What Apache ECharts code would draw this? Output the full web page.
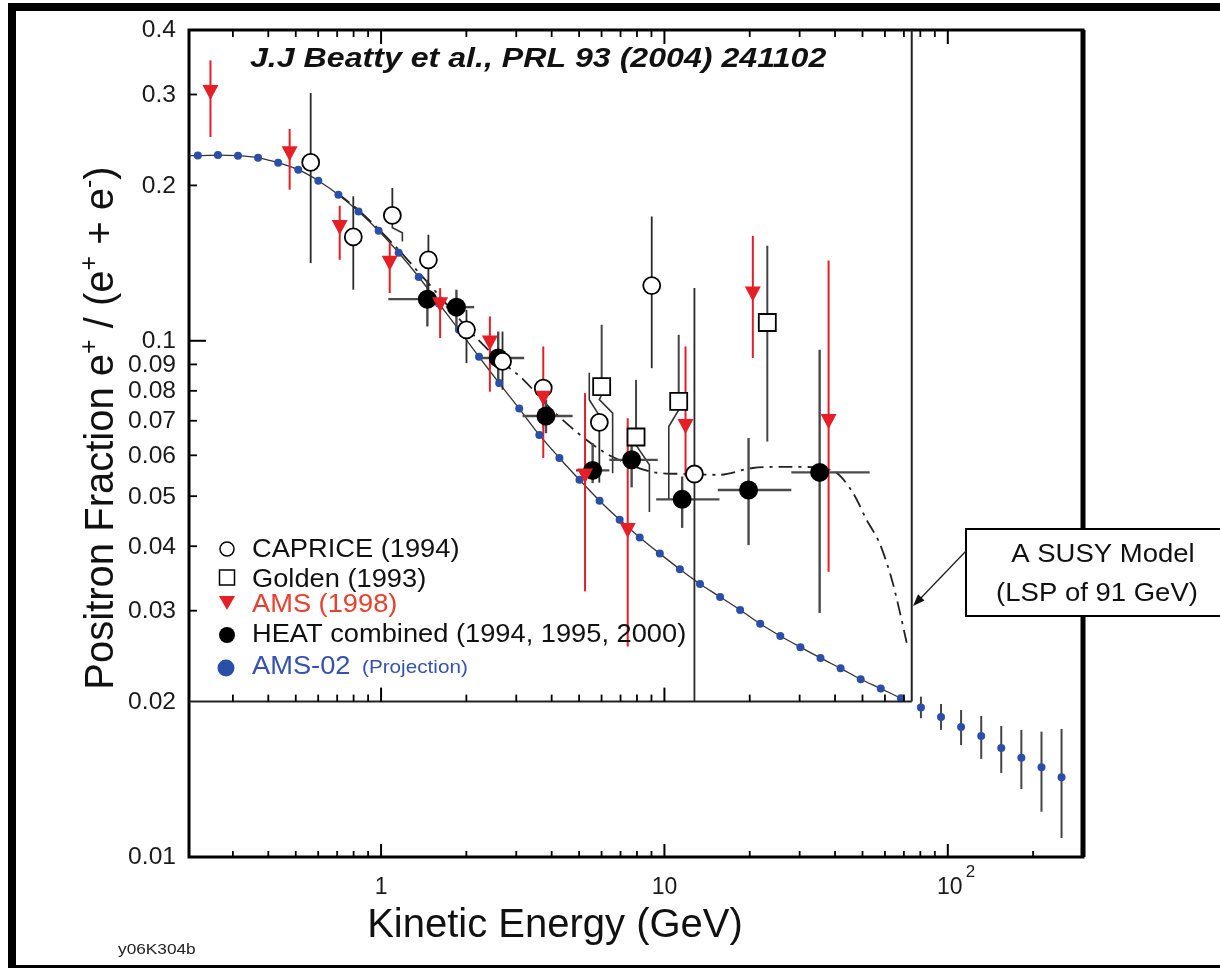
<!DOCTYPE html>
<html><head><meta charset="utf-8">
<script src="https://cdn.jsdelivr.net/npm/echarts@6/dist/echarts.min.js"></script>
<style>html,body{margin:0;padding:0;background:#fff}#c{width:1220px;height:968px}</style>
</head><body><div id="c"></div>
<script>
// ---------------- DATA ----------------
// AMS-02 projection (blue dots), kinetic energy (GeV) and positron fraction
const ams02X = [0.2256,0.2657,0.3127,0.3681,0.4334,0.5102,0.6006,0.7071,0.8327,0.9804,1.154,1.359,1.600,1.883,2.217,2.611,3.073,3.618,4.259,5.014,5.903,6.950,8.181,9.632,11.34,13.35,15.72,18.50,21.78,25.64,30.19,35.54,41.84,49.27,58.00,68.29,80.39,94.65,111.4,131.2,154.4,181.8,214.1,252.0];
const ams02Y = [0.2285,0.2290,0.2283,0.2262,0.2213,0.2145,0.2042,0.1918,0.1781,0.1634,0.1481,0.1329,0.1181,0.1050,0.0931,0.0828,0.0739,0.0657,0.0593,0.0538,0.0490,0.0450,0.0416,0.0387,0.0361,0.0338,0.0319,0.0301,0.0283,0.0268,0.0255,0.0243,0.0232,0.0221,0.0212,0.0203,0.01949,0.01867,0.01786,0.01716,0.01626,0.01557,0.01492,0.01427];
const ams02Lo = [null,null,null,null,null,null,null,null,null,null,null,null,null,null,null,null,null,null,null,null,null,null,null,null,null,null,null,null,null,null,null,null,null,null,null,null,0.01857,0.01763,0.01648,0.01549,0.01455,0.01354,0.01224,0.01088];
const ams02Hi = [null,null,null,null,null,null,null,null,null,null,null,null,null,null,null,null,null,null,null,null,null,null,null,null,null,null,null,null,null,null,null,null,null,null,null,null,0.02045,0.01979,0.01927,0.01876,0.01794,0.01763,0.01749,0.01770];

// Background model (solid line)
const bgX = [0.21,0.2256,0.2657,0.3127,0.3681,0.4334,0.5102,0.6006,0.7071,0.8327,0.9804,1.154,1.359,1.600,1.883,2.217,2.611,3.073,3.618,4.259,5.014,5.903,6.950,8.181,9.632,11.34,13.35,15.72,18.50,21.78,25.64,30.19,35.54,41.84,49.27,58.00,68.29];
const bgY = [0.2285,0.2285,0.2290,0.2283,0.2262,0.2213,0.2145,0.2042,0.1918,0.1781,0.1634,0.1481,0.1329,0.1181,0.1050,0.0931,0.0828,0.0739,0.0657,0.0593,0.0538,0.0490,0.0450,0.0416,0.0387,0.0361,0.0338,0.0319,0.0301,0.0283,0.0268,0.0255,0.0243,0.0232,0.0221,0.0212,0.0203];

// SUSY model (dash-dot line)
const susyX = [0.707,0.833,0.98,1.154,1.36,1.6,1.88,2.2,2.6,3.15,4.0,5.3,6.55,9.07,12.0,15.6,20.5,27.7,35.0,40.5,46.2,51.7,57.4,63.9,71.6];
const susyY = [0.1925,0.179,0.1645,0.150,0.1355,0.1225,0.1105,0.1005,0.092,0.0845,0.0735,0.0643,0.0596,0.0557,0.0552,0.0550,0.0567,0.0570,0.0568,0.0555,0.0508,0.045,0.0406,0.034,0.026];

// CAPRICE (1994)
const capX  = [0.5645,0.798,1.096,1.469,2.002,2.683,3.736,5.892,9.02,12.76];
const capY  = [0.2216,0.1589,0.1749,0.1435,0.1050,0.0912,0.0810,0.0695,0.1279,0.0552];
const capLo = [0.1414,0.1256,0.1749,0.1250,0.0905,0.0804,0.0680,0.0531,0.0885,0.0200];
const capHi = [0.3020,0.1905,0.1977,0.1605,0.1148,0.1042,0.0834,0.0695,0.1741,0.1265];

// Golden (1993)
const golX  = [6.005,7.94,11.23,23.07];
const golY  = [0.0815,0.0651,0.0763,0.1085];
const golLo = [0.0815,0.0651,0.0763,0.0638];
const golHi = [0.1074,0.0840,0.1027,0.1528];

// Offset connectors (error-bar continuations drawn with a kink), [x, y] pairs
const connectors = [
  [[1.096,0.1703],[1.096,0.1656],[1.189,0.1619],[1.189,0.1557]],
  [[6.005,0.0786],[5.892,0.0769],[6.565,0.0724],[6.565,0.0554]],
  [[5.892,0.0716],[5.43,0.0769],[5.43,0.0867]],
  [[7.94,0.0628],[8.85,0.0575],[8.85,0.0466]],
  [[11.23,0.0735],[10.36,0.0682],[10.36,0.0492]]
];

// AMS (1998)
const amsX  = [0.250,0.4757,0.7146,1.073,1.616,2.421,3.736,5.246,7.42,11.87,20.51,37.96];
const amsY  = [0.3028,0.2304,0.1658,0.1414,0.1174,0.0990,0.0774,0.0547,0.0429,0.0682,0.1232,0.0698];
const amsLo = [0.2482,0.1962,0.1435,0.1237,0.1012,0.0797,0.0593,0.0327,0.02557,0.0546,0.0926,0.0357];
const amsHi = [0.3493,0.2572,0.1826,0.1547,0.1265,0.1115,0.0975,0.0792,0.0708,0.0975,0.1597,0.1430];

// HEAT combined (1994, 1995, 2000)
const heatX   = [1.457,1.845,2.591,3.819,5.58,7.66,11.55,19.81,35.3];
const heatY   = [0.1204,0.1162,0.0926,0.0715,0.0561,0.0588,0.0493,0.0514,0.0556];
const heatXLo = [1.061,1.693,2.220,3.157,4.875,6.393,9.35,15.43,28.04];
const heatXHi = [1.647,2.131,3.20,4.742,6.393,9.47,15.64,28.04,53.0];
const heatYLo = [0.1066,0.1050,0.0815,0.0662,0.0530,0.0520,0.0434,0.0402,0.0297];
const heatYHi = [0.1313,0.1256,0.1042,0.0769,0.0634,0.0640,0.0546,0.0648,0.0961];

// Axes / ticks
const X_MIN = 0.21, X_MAX = 300, Y_MIN = 0.01, Y_MAX = 0.4;
const INNER_X_MAX = 74.6, INNER_Y_MIN = 0.02;   // original (inner) plot box
const TOP_TICK_MAX = 100;
const xMinorTicks = [0.3,0.4,0.5,0.6,0.7,0.8,0.9,2,3,4,5,6,7,8,9,20,30,40,50,60,70,80,90,200];
const xMajorTicks = [1,10,100];
const xTickLabelVals = [1,10,100];
const xTickLabels = ['1','10','10'];
const xTickSups = ['','','2'];
const yMinorTicks = [0.03,0.04,0.05,0.06,0.07,0.08,0.09,0.2,0.3];
const yMajorTicks = [0.1];
const yTickLabelVals = [0.4,0.3,0.2,0.1,0.09,0.08,0.07,0.06,0.05,0.04,0.03,0.02,0.01];
const yTickLabels = ['0.4','0.3','0.2','0.1','0.09','0.08','0.07','0.06','0.05','0.04','0.03','0.02','0.01'];

// ---------------- CHART ----------------
const FONT = '"Liberation Sans", Arial, Helvetica, sans-serif';
const RED = '#e61e26', BLUE = '#2b4fa8';

function zip() { const a = arguments; return a[0].map((_, i) => Array.prototype.map.call(a, arr => arr[i] == null ? null : arr[i])); }
function L(a, b, w, c) { return {type:'line', shape:{x1:a[0], y1:a[1], x2:b[0], y2:b[1]}, style:{stroke:c || '#000', lineWidth:w, fill:null}}; }

function errRender(color, width) {
  return function (params, api) {
    const x = api.value(0), y = api.value(1);
    const lo = api.value(2), hi = api.value(3), xlo = api.value(4), xhi = api.value(5);
    const ch = [];
    if (isFinite(lo) && isFinite(hi) && lo > 0 && hi > 0 && hi > lo) ch.push(L(api.coord([x, lo]), api.coord([x, hi]), width, color));
    if (isFinite(xlo) && isFinite(xhi) && xlo > 0 && xhi > 0) ch.push(L(api.coord([xlo, y]), api.coord([xhi, y]), width, color));
    return {type:'group', children: ch};
  };
}

function renderFrame(params, api) {
  const ch = [];
  const txt = (x, y, s, size, align, va, sx) => ch.push({type:'text', x:x, y:y, scaleX: sx || 1,
      style:{text:s, font: size + 'px ' + FONT, fill:'#1a1a1a', align:align, verticalAlign:va}});
  ch.push(L(api.coord([X_MIN, INNER_Y_MIN]), api.coord([INNER_X_MAX, INNER_Y_MIN]), 2, '#222'));
  ch.push(L(api.coord([INNER_X_MAX, INNER_Y_MIN]), api.coord([INNER_X_MAX, Y_MAX]), 2, '#222'));
  ch.push(L(api.coord([X_MAX, Y_MIN]), api.coord([X_MAX, Y_MAX]), 5));
  yTickLabelVals.forEach((v, i) => { const p = api.coord([X_MIN, v]); txt(p[0] - 13, p[1] + 1, yTickLabels[i], 23, 'right', 'middle', 1.07); });
  xTickLabelVals.forEach((v, i) => {
    const p = api.coord([v, Y_MIN]);
    txt(p[0] + (xTickSups[i] ? 2 : 0), p[1] + 31, xTickLabels[i], 23, 'center', 'middle', 1);
    if (xTickSups[i]) txt(p[0] + 18, p[1] + 15, xTickSups[i], 17, 'left', 'middle', 1);
  });
  return {type:'group', children: ch};
}

function renderConnector(params, api) {
  const pts = connectors[params.dataIndex].map(p => api.coord(p).slice());
  return {type:'polyline', shape:{points: pts}, style:{stroke:'#333', lineWidth:1.6, fill:null}};
}

const chart = echarts.init(document.getElementById('c'), null, {renderer:'canvas'});

const staticGraphics = [
  {type:'rect', shape:{x:12, y:7, width:1240, height:962}, style:{fill:'none', stroke:'#000', lineWidth:8}, silent:true, z:50},
  {type:'text', x:250, y:60, scaleX:1.19, style:{text:'J.J Beatty et al., PRL 93 (2004) 241102', font:'italic bold 27px ' + FONT, fill:'#111', align:'left', verticalAlign:'middle'}, z:50},
  // legend
  {type:'circle', shape:{cx:227, cy:549, r:7}, style:{fill:'#fff', stroke:'#000', lineWidth:1.5}, z:50},
  {type:'rect', shape:{x:219.5, y:570, width:15, height:15}, style:{fill:'#fff', stroke:'#000', lineWidth:1.5}, z:50},
  {type:'polygon', shape:{points:[[219,596],[235,596],[227,610]]}, style:{fill:RED}, z:50},
  {type:'circle', shape:{cx:227, cy:635, r:8}, style:{fill:'#000'}, z:50},
  {type:'circle', shape:{cx:226, cy:668, r:8.5}, style:{fill:BLUE}, z:50},
  {type:'text', x:252, y:550, scaleX:1.09, style:{text:'CAPRICE (1994)', font:'25px ' + FONT, fill:'#111', verticalAlign:'middle'}, z:50},
  {type:'text', x:252, y:580, scaleX:1.09, style:{text:'Golden (1993)', font:'25px ' + FONT, fill:'#111', verticalAlign:'middle'}, z:50},
  {type:'text', x:252, y:605, scaleX:1.09, style:{text:'AMS (1998)', font:'25px ' + FONT, fill:'#e8402f', verticalAlign:'middle'}, z:50},
  {type:'text', x:252, y:635, scaleX:1.09, style:{text:'HEAT combined (1994, 1995, 2000)', font:'25px ' + FONT, fill:'#111', verticalAlign:'middle'}, z:50},
  {type:'text', x:252, y:667, scaleX:1.09, style:{text:'AMS-02', font:'25px ' + FONT, fill:'#3552b0', verticalAlign:'middle'}, z:50},
  {type:'text', x:362, y:668, scaleX:1.09, style:{text:'(Projection)', font:'19px ' + FONT, fill:'#3552b0', verticalAlign:'middle'}, z:50},
  // axis titles
  {type:'text', x:100, y:428, rotation:Math.PI / 2, style:{
    text:'{a|Positron Fraction e}{s|+}{a| / (e}{s|+}{a| + e}{s|-}{a|)}',
    rich:{a:{font:'40px ' + FONT, fill:'#111', lineHeight:44, verticalAlign:'bottom'}, s:{font:'25px ' + FONT, fill:'#111', lineHeight:44, verticalAlign:'top'}},
    align:'center', verticalAlign:'middle'}, z:50},
  {type:'text', x:555, y:926, style:{text:'Kinetic Energy (GeV)', font:'40px ' + FONT, fill:'#111', align:'center', verticalAlign:'middle'}, z:50},
  {type:'text', x:118, y:950, scaleX:1.15, style:{text:'y06K304b', font:'15px ' + FONT, fill:'#222', verticalAlign:'middle'}, z:50},
  // SUSY annotation
  {type:'rect', shape:{x:966, y:529, width:270, height:87}, style:{fill:'#fff', stroke:'#000', lineWidth:2}, z:60},
  {type:'text', x:1103, y:555, scaleX:1.1, style:{text:'A SUSY Model', font:'25px ' + FONT, fill:'#111', align:'center', verticalAlign:'middle'}, z:61},
  {type:'text', x:1097, y:594, scaleX:1.1, style:{text:'(LSP of 91 GeV)', font:'25px ' + FONT, fill:'#111', align:'center', verticalAlign:'middle'}, z:61},
  {type:'line', shape:{x1:966, y1:551, x2:919, y2:600}, style:{stroke:'#222', lineWidth:1.3}, z:61},
  {type:'polygon', shape:{points:[[913,606],[924.5,600.5],[918.1,594.3]]}, style:{fill:'#111'}, z:61}
];

const option = {
  animation: false,
  backgroundColor: '#fff',
  grid: {left: 189, right: 137, top: 30, bottom: 111, show: true, borderColor: '#000', borderWidth: 3},
  xAxis: {type:'log', logBase:10, min:X_MIN, max:X_MAX, axisLine:{show:false}, axisTick:{show:false}, axisLabel:{show:false}, splitLine:{show:false}},
  yAxis: {type:'log', logBase:10, min:Y_MIN, max:Y_MAX, axisLine:{show:false}, axisTick:{show:false}, axisLabel:{show:false}, splitLine:{show:false}},
  series: [
    {name:'Background', type:'line', data: zip(bgX, bgY), showSymbol:false, smooth:0.3, lineStyle:{color:'#333', width:1.3}, z:2, silent:true},
    {name:'SUSY', type:'line', data: zip(susyX, susyY), showSymbol:false, smooth:0.3, lineStyle:{color:'#222', width:1.8, type:[14,6,3,6]}, z:2, silent:true},
    {name:'connectors', type:'custom', renderItem: renderConnector, data: connectors.map(c => c[0]), encode:{x:0, y:1}, z:3, clip:false, silent:true},
    {name:'AMS-02 err', type:'custom', renderItem: errRender('#444', 2), data: zip(ams02X, ams02Y, ams02Lo, ams02Hi), encode:{x:0, y:1}, z:3, clip:false},
    {name:'HEAT err', type:'custom', renderItem: errRender('#4a4a4a', 2.4), data: zip(heatX, heatY, heatYLo, heatYHi, heatXLo, heatXHi), encode:{x:0, y:1}, z:3, clip:false},
    {name:'CAPRICE err', type:'custom', renderItem: errRender('#2a2a2a', 1.8), data: zip(capX, capY, capLo, capHi), encode:{x:0, y:1}, z:3, clip:false},
    {name:'Golden err', type:'custom', renderItem: errRender('#444', 2), data: zip(golX, golY, golLo, golHi), encode:{x:0, y:1}, z:3, clip:false},
    {name:'AMS err', type:'custom', renderItem: errRender(RED, 2), data: zip(amsX, amsY, amsLo, amsHi), encode:{x:0, y:1}, z:3, clip:false},
    {name:'AMS-02 (Projection)', type:'scatter', data: zip(ams02X, ams02Y), symbol:'circle', symbolSize:8, itemStyle:{color:BLUE, opacity:1}, z:4},
    {name:'HEAT combined (1994, 1995, 2000)', type:'scatter', data: zip(heatX, heatY), symbol:'circle', symbolSize:19, itemStyle:{color:'#000', opacity:1}, z:5},
    {name:'CAPRICE (1994)', type:'scatter', data: zip(capX, capY), symbol:'circle', symbolSize:17, itemStyle:{color:'#fff', borderColor:'#000', borderWidth:1.8, opacity:1}, z:6},
    {name:'Golden (1993)', type:'scatter', data: zip(golX, golY), symbol:'rect', symbolSize:17, itemStyle:{color:'#fff', borderColor:'#000', borderWidth:1.8, opacity:1}, z:6},
    {name:'AMS (1998)', type:'scatter', data: zip(amsX, amsY), symbol:'triangle', symbolRotate:180, symbolSize:[16,15], itemStyle:{color:RED, opacity:1}, z:7},
    {name:'frame', type:'custom', renderItem: renderFrame, data: [[1, 0.1]], encode:{x:0, y:1}, z:8, clip:false, silent:true}
  ]
};
chart.setOption(option);

// Tick marks: positions come from the chart's own log scales (convertToPixel)
const toPx = (x, y) => chart.convertToPixel({gridIndex: 0}, [x, y]);
const tickEls = [];
function tick(x1, y1, x2, y2, w) {
  tickEls.push({type:'line', shape:{x1:x1, y1:y1, x2:x2, y2:y2}, style:{stroke:'#000', lineWidth:w}, z:55});
}
[[xMinorTicks, 6, 1.8], [xMajorTicks, 13, 2]].forEach(([vals, len, w]) => {
  vals.forEach(v => {
    const b = toPx(v, Y_MIN);
    tick(b[0], b[1], b[0], b[1] - len, w);
    if (v <= TOP_TICK_MAX) { const t = toPx(v, Y_MAX); tick(t[0], t[1], t[0], t[1] + len + 1, w); }
    if (v < INNER_X_MAX) { const m = toPx(v, INNER_Y_MIN); tick(m[0], m[1], m[0], m[1] - len - 1, w); }
  });
});
[[yMinorTicks, 8, 1.8], [yMajorTicks, 17, 2]].forEach(([vals, len, w]) => {
  vals.forEach(v => { const p = toPx(X_MIN, v); tick(p[0], p[1], p[0] + len, p[1], w); });
});
chart.setOption({graphic: tickEls.concat(staticGraphics)});
</script>
</body></html>
